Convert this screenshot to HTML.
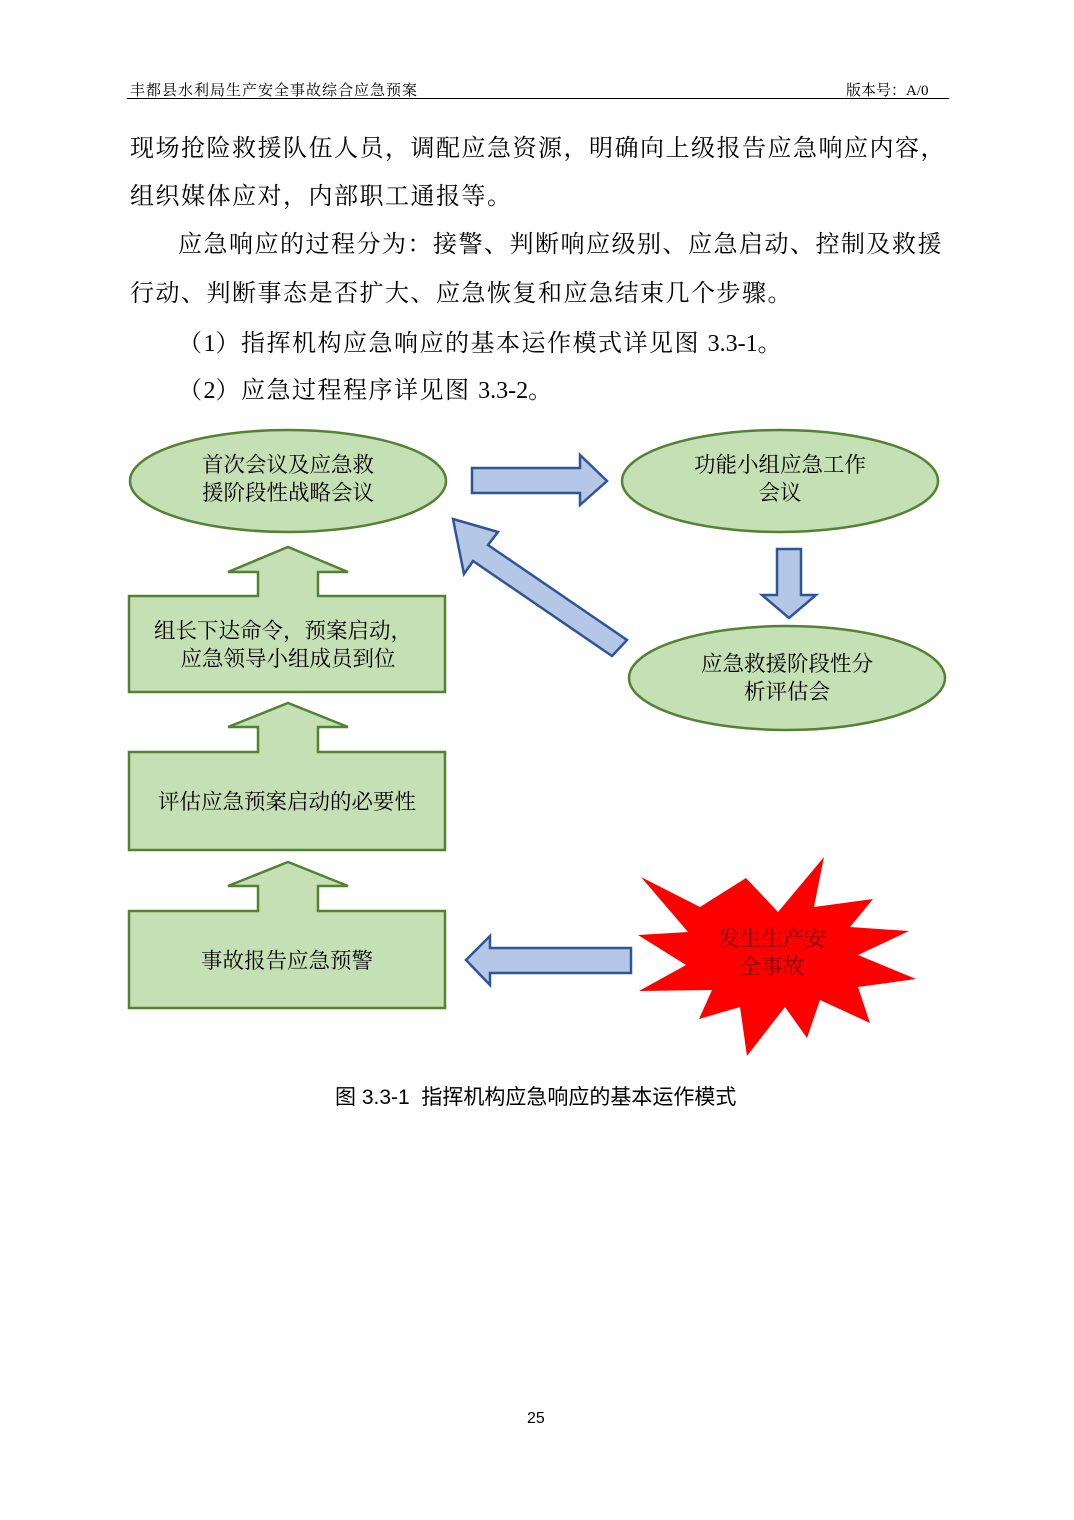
<!DOCTYPE html>
<html><head><meta charset="utf-8"><style>
body{margin:0;background:#fff;}
.p{position:relative;width:1074px;height:1520px;overflow:hidden;font-family:"Noto Serif CJK SC","Liberation Serif",serif;color:#000;}
.t{position:absolute;white-space:nowrap;}
.b{font-size:24px;letter-spacing:1.5px;line-height:30px;}
.l{font-family:"Liberation Serif",serif;letter-spacing:0;}
</style></head><body><div class="p">
<div class="t" style="left:130px;top:79px;font-size:15px;letter-spacing:1px;">丰都县水利局生产安全事故综合应急预案</div>
<div class="t" style="left:846px;top:79px;font-size:15px;">版本号：<span class="l">A/0</span></div>
<div style="position:absolute;left:127px;top:98px;width:822px;height:1px;background:#000;"></div>
<div class="t b" style="left:130px;top:131px;">现场抢险救援队伍人员，调配应急资源，明确向上级报告应急响应内容，</div>
<div class="t b" style="left:130px;top:179px;">组织媒体应对，内部职工通报等。</div>
<div class="t b" style="left:178px;top:227px;">应急响应的过程分为：接警、判断响应级别、应急启动、控制及救援</div>
<div class="t b" style="left:130px;top:276px;">行动、判断事态是否扩大、应急恢复和应急结束几个步骤。</div>
<div class="t b" style="left:178px;top:326px;">（<span class="l">1</span>）指挥机构应急响应的基本运作模式详见图 <span class="l">3.3-1</span>。</div>
<div class="t b" style="left:178px;top:373px;">（<span class="l">2</span>）应急过程程序详见图 <span class="l">3.3-2</span>。</div>
<svg width="1074" height="1520" style="position:absolute;left:0;top:0" font-family="Noto Serif CJK SC, Liberation Serif, serif" font-size="21.5">
<g fill="#c5e0b4" stroke="#548235" stroke-width="2.5">
<ellipse cx="288" cy="481" rx="158" ry="51"/>
<ellipse cx="780" cy="481" rx="158" ry="51"/>
<ellipse cx="787" cy="678" rx="158" ry="52"/>
<polygon points="129,596 258,596 258,572 228,572 288,547 348,572 318,572 318,596 445,596 445,692 129,692"/>
<polygon points="129,752 258,752 258,727 228,727 288,703 348,727 318,727 318,752 445,752 445,850 129,850"/>
<polygon points="129,911 258,911 258,886 228,886 288,862 348,886 318,886 318,911 445,911 445,1008 129,1008"/>
</g>
<g fill="#b4c7e7" stroke="#2f5597" stroke-width="2.5">
<polygon points="472,468 580,468 580,455 607,481 580,505 580,493 472,493"/>
<polygon points="777,549 801,549 801,595 816,595 789,618 762,595 777,595"/>
<polygon points="631,948 490,948 490,936 466,960 490,985 490,973 631,973"/>
<polygon points="453,519 498,532 488,545 627,640 612,656 473,561 464,574"/>
</g>
<polygon fill="#ff0000" points="641,877 700,907 746,878 778,912 824,857 814,907 873,899 850,927 909,931 858,955 916,979 858,987 870,1023 820,1000 807,1038 785,1007 747,1056 740,1007 699,1019 712,990 639,991 686,965 638,935 688,932"/>
<g text-anchor="middle" fill="#000">
<text x="288" y="472">首次会议及应急救</text>
<text x="288" y="500">援阶段性战略会议</text>
<text x="780" y="472">功能小组应急工作</text>
<text x="780" y="500">会议</text>
<text x="787" y="671">应急救援阶段性分</text>
<text x="787" y="699">析评估会</text>
<text x="283" y="638">组长下达命令，预案启动，</text>
<text x="288" y="666">应急领导小组成员到位</text>
<text x="287" y="809">评估应急预案启动的必要性</text>
<text x="287" y="968">事故报告应急预警</text>
<text x="772" y="946" fill="#7a0000">发生生产安</text>
<text x="772" y="974" fill="#7a0000">全事故</text>
</g>
</svg>
<div class="t" style="left:335px;top:1081px;font-size:21px;font-family:'Liberation Sans','Noto Sans CJK SC',sans-serif;">图 3.3-1&nbsp;&nbsp;指挥机构应急响应的基本运作模式</div>
<div class="t" style="left:527px;top:1410px;font-size:16px;font-family:'Liberation Sans',sans-serif;">25</div>
</div></body></html>
